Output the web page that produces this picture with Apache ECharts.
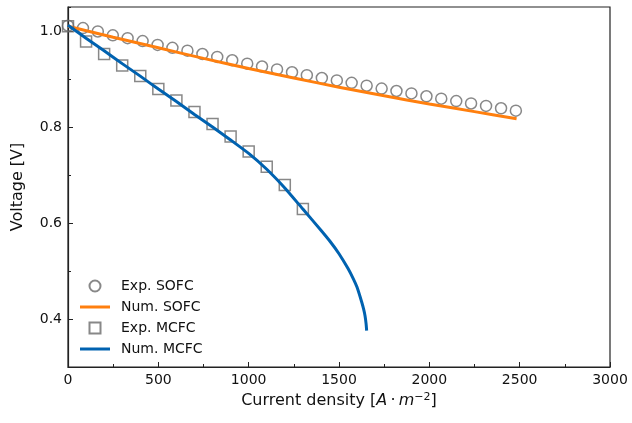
<!DOCTYPE html>
<html>
<head>
<meta charset="utf-8">
<script src="https://cdn.jsdelivr.net/npm/echarts@6/dist/echarts.min.js"></script>
<style>html,body{margin:0;padding:0;background:#fff;}#c{width:632px;height:423px;}</style>
</head>
<body>
<div id="c"></div>
<script>
// Experimental SOFC (circles)
var sofcExpX = [0, 83, 165, 248, 330, 413, 496, 578, 661, 744, 826, 909, 992, 1074, 1157, 1240, 1322, 1405, 1488, 1570, 1653, 1736, 1818, 1901, 1984, 2066, 2149, 2231, 2314, 2397, 2479];
var sofcExpV = [1.011, 1.006, 0.999, 0.991, 0.985, 0.979, 0.971, 0.965, 0.959, 0.952, 0.946, 0.939, 0.932, 0.926, 0.920, 0.914, 0.908, 0.902, 0.897, 0.892, 0.886, 0.880, 0.875, 0.870, 0.864, 0.859, 0.854, 0.849, 0.844, 0.839, 0.834];
// Numerical SOFC (orange line)
var sofcNumX = [0, 250, 500, 750, 1000, 1250, 1500, 1750, 2000, 2250, 2483];
var sofcNumV = [1.010, 0.987, 0.965, 0.943, 0.922, 0.902, 0.883, 0.865, 0.848, 0.832, 0.817];
// Experimental MCFC (squares)
var mcfcExpX = [0, 100, 200, 300, 400, 500, 600, 700, 800, 900, 1000, 1100, 1200, 1300];
var mcfcExpV = [1.010, 0.978, 0.952, 0.928, 0.906, 0.879, 0.855, 0.831, 0.806, 0.780, 0.749, 0.717, 0.679, 0.629];
// Numerical MCFC (blue line)
var mcfcNumX = [0, 100, 200, 300, 400, 500, 600, 700, 800, 900, 1000, 1100, 1200, 1300, 1400, 1450, 1500, 1550, 1580, 1600, 1626, 1636, 1644, 1650, 1653];
var mcfcNumV = [1.012, 0.985, 0.959, 0.932, 0.906, 0.879, 0.853, 0.826, 0.800, 0.773, 0.745, 0.712, 0.673, 0.629, 0.585, 0.562, 0.536, 0.505, 0.483, 0.466, 0.435, 0.421, 0.407, 0.390, 0.376];
// Axis ticks
var xTicks = [0, 500, 1000, 1500, 2000, 2500, 3000];
var yTicks = [0.4, 0.6, 0.8, 1.0];

function pairs(xs, ys) { return xs.map(function (x, i) { return [x, ys[i]]; }); }

var FONT = 'DejaVu Sans';
var GRAY = '#6a6a6a';
var ORANGE = '#ff7f0e';
var BLUE = '#0062b0';
var LINE_ICON = 'path://M0,0H30V3H0Z';
var SQUARE_ICON = 'path://M0,0H10V10H0Z';

var chart = echarts.init(document.getElementById('c'), null, {renderer: 'canvas'});
chart.setOption({
  animation: false,
  backgroundColor: '#fff',
  textStyle: {fontFamily: FONT},
  grid: {left: 68, right: 22, top: 7, bottom: 56, show: true, borderColor: '#222', borderWidth: 1.2, backgroundColor: 'transparent'},
  legend: {
    orient: 'vertical', left: 80, top: 279, padding: 0, itemGap: 7,
    itemWidth: 30, itemHeight: 11, symbolKeepAspect: true,
    textStyle: {fontFamily: FONT, fontSize: 14, color: '#111', padding: [0, 0, 0, 6]},
    data: [
      {name: 'Exp. SOFC', icon: 'circle'},
      {name: 'Num. SOFC', icon: LINE_ICON, itemStyle: {color: ORANGE, borderWidth: 0}},
      {name: 'Exp. MCFC', icon: SQUARE_ICON},
      {name: 'Num. MCFC', icon: LINE_ICON, itemStyle: {color: BLUE, borderWidth: 0}}
    ]
  },
  xAxis: {
    type: 'value', min: xTicks[0], max: xTicks[xTicks.length - 1], interval: 500,
    name: 'Current density [{it|A}\u2009·\u2009{it|m}{sup|\u22122}]',
    nameLocation: 'middle', nameGap: 25,
    nameTextStyle: {fontFamily: FONT, fontSize: 16, color: '#111',
      rich: {it: {fontFamily: FONT, fontSize: 16, fontStyle: 'italic', color: '#111'},
             sup: {fontFamily: FONT, fontSize: 11, color: '#111', verticalAlign: 'top', padding: [0, 0, 7, 0]}}},
    axisLine: {show: true, lineStyle: {color: '#222', width: 1.2}},
    axisTick: {show: true, inside: true, length: 5, lineStyle: {color: '#222', width: 1}},
    minorTick: {show: true, splitNumber: 2, length: 3, lineStyle: {color: '#222', width: 1}},
    axisLabel: {fontFamily: FONT, fontSize: 14, color: '#111', margin: 6,
      formatter: function (v) { return String(Math.round(v)); }},
    splitLine: {show: false}
  },
  yAxis: [{
    type: 'value', min: 0.3, max: 1.05, splitNumber: 4,
    name: 'Voltage [V]', nameLocation: 'middle', nameGap: 42,
    nameTextStyle: {fontFamily: FONT, fontSize: 16, color: '#111'},
    axisLine: {show: true, lineStyle: {color: '#222', width: 1.2}},
    axisTick: {show: true, inside: true, length: 5, lineStyle: {color: '#222', width: 1}},
    axisLabel: {fontFamily: FONT, fontSize: 14, color: '#111', margin: 6, showMinLabel: false, showMaxLabel: false,
      formatter: function (v) { return yTicks.some(function (t) { return Math.abs(t - v) < 1e-6; }) ? v.toFixed(1) : ''; }},
    splitLine: {show: false}
  }, {
    type: 'value', min: 0.3, max: 1.05, interval: 0.1, position: 'left',
    axisLine: {show: false},
    axisTick: {show: true, inside: true, length: 3, lineStyle: {color: '#222', width: 1}},
    axisLabel: {show: false},
    splitLine: {show: false}
  }],
  series: [
    {name: 'Exp. SOFC', type: 'scatter', data: pairs(sofcExpX, sofcExpV), symbol: 'circle', symbolSize: 11,
     itemStyle: {color: 'rgba(255,255,255,0)', borderColor: GRAY, borderWidth: 1.5}, z: 2},
    {name: 'Num. SOFC', type: 'line', data: pairs(sofcNumX, sofcNumV), smooth: 0.3, symbol: 'none', showSymbol: false,
     lineStyle: {color: ORANGE, width: 3}, itemStyle: {color: ORANGE}, z: 3},
    {name: 'Exp. MCFC', type: 'scatter', data: pairs(mcfcExpX, mcfcExpV), symbol: 'rect', symbolSize: 11,
     itemStyle: {color: 'rgba(255,255,255,0)', borderColor: GRAY, borderWidth: 1.5}, z: 4},
    {name: 'Num. MCFC', type: 'line', data: pairs(mcfcNumX, mcfcNumV), smooth: 0.2, symbol: 'none', showSymbol: false,
     lineStyle: {color: BLUE, width: 3}, itemStyle: {color: BLUE}, z: 5}
  ]
});
</script>
</body>
</html>
